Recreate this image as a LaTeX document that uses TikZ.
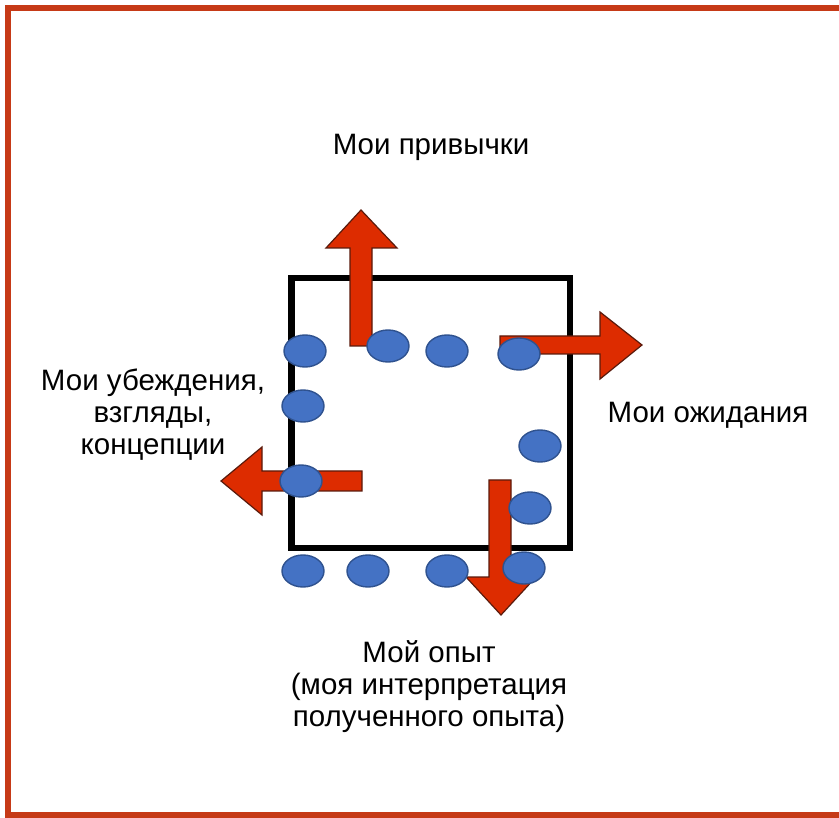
\documentclass[tikz,border=0pt]{standalone}
\usepackage{fontspec}
\setmainfont{Liberation Sans}
\usetikzlibrary{shapes.geometric}
\definecolor{framered}{HTML}{C63A17}
\definecolor{arrowred}{HTML}{DD2C00}
\definecolor{arrowedge}{HTML}{5A1A0C}
\definecolor{dotblue}{HTML}{4472C4}
\definecolor{dotedge}{HTML}{2F528F}
\begin{document}
\begin{tikzpicture}[x=1pt,y=-1pt,
  blue dot/.style={ellipse,draw=dotedge,fill=dotblue,line width=1.4pt,minimum width=42pt,minimum height=32pt,inner sep=0pt},
  red arrow/.style={draw=arrowedge,fill=arrowred,line width=1.2pt},
  label text/.style={font=\fontsize{29.5}{32}\selectfont,align=center,inner sep=0pt}]
  \useasboundingbox (0,0) rectangle (839,818);
  % frame and box
  \draw[framered,line width=6pt] (839,8) -- (8,8) -- (8,815) -- (839,815);
  \draw[line width=6.5pt] (291.5,278) rectangle (570,548);

  \node[label text] (habits) at (431,147) {Мои привычки};
  \node[label text] (expect) at (708,415) {Мои ожидания};
  \node[label text] (beliefs) at (153,415) {Мои убеждения,\\взгляды,\\концепции};
  \node[label text] (experience) at (429,687) {Мой опыт\\(моя интерпретация\\полученного опыта)};

  % block arrows
  \draw[red arrow] (350,346) -- (350,248) -- (326,248) -- (361,210) -- (397,248) -- (372,248) -- (372,346) -- cycle;
  \draw[red arrow] (500,336) -- (600,336) -- (600,312) -- (642,345) -- (600,379) -- (600,354) -- (500,354) -- cycle;
  \draw[red arrow] (362,471) -- (262,471) -- (262,447) -- (221,481) -- (262,515) -- (262,491) -- (362,491) -- cycle;
  \draw[red arrow] (489,480) -- (489,577) -- (466,577) -- (501,615) -- (536,577) -- (511,577) -- (511,480) -- cycle;

  \foreach \n/\x/\y in {1/305/351, 2/388/346, 3/447/351, 4/519/354, 5/303/406, 6/540/446,
    7/301/481, 8/530/508, 9/303/571, 10/368/571, 11/447/571, 12/524/568}
    \node[blue dot] (dot\n) at (\x,\y) {};
\end{tikzpicture}
\end{document}
